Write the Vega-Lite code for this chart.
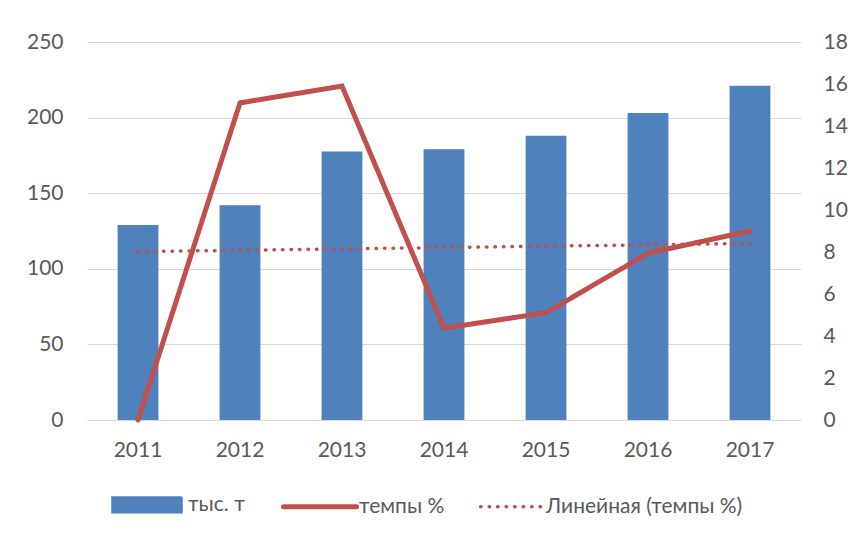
{
  "$schema": "https://vega.github.io/schema/vega-lite/v6.json",
  "width": 714,
  "height": 378,
  "autosize": "none",
  "padding": {"left": 87, "top": 42, "right": 54, "bottom": 116},
  "background": "white",
  "config": {
    "font": "Lato",
    "view": {"stroke": null},
    "axis": {"labelFont": "Lato", "labelFontSize": 21, "labelColor": "#595959", "ticks": false, "domain": false, "grid": false, "title": null}
  },
  "datasets": {
    "bars": [
      {"year": "2011", "value": 129},
      {"year": "2012", "value": 142},
      {"year": "2013", "value": 177.5},
      {"year": "2014", "value": 179},
      {"year": "2015", "value": 188},
      {"year": "2016", "value": 203},
      {"year": "2017", "value": 221}
    ],
    "lines": [
      {"year": "2011", "series": "темпы %", "value": 0},
      {"year": "2012", "series": "темпы %", "value": 15.1},
      {"year": "2013", "series": "темпы %", "value": 15.9},
      {"year": "2014", "series": "темпы %", "value": 4.37},
      {"year": "2015", "series": "темпы %", "value": 5.11},
      {"year": "2016", "series": "темпы %", "value": 7.94},
      {"year": "2017", "series": "темпы %", "value": 9.0},
      {"year": "2011", "series": "Линейная (темпы %)", "value": 8.02},
      {"year": "2012", "series": "Линейная (темпы %)", "value": 8.08},
      {"year": "2013", "series": "Линейная (темпы %)", "value": 8.15},
      {"year": "2014", "series": "Линейная (темпы %)", "value": 8.21},
      {"year": "2015", "series": "Линейная (темпы %)", "value": 8.28},
      {"year": "2016", "series": "Линейная (темпы %)", "value": 8.34},
      {"year": "2017", "series": "Линейная (темпы %)", "value": 8.41}
    ]
  },
  "layer": [
    {
      "data": {"name": "bars"},
      "mark": {"type": "bar"},
      "encoding": {
        "x": {"field": "year", "type": "ordinal", "scale": {"paddingInner": 0.6, "paddingOuter": 0.3},
              "axis": {"labelAngle": 0, "labelPadding": 19, "domain": true, "domainColor": "#D9D9D9", "domainWidth": 1}},
        "y": {"field": "value", "type": "quantitative", "scale": {"domain": [0, 250]},
              "axis": {"values": [0, 50, 100, 150, 200, 250], "grid": true, "gridColor": "#D9D9D9", "gridWidth": 1, "labelPadding": 24}},
        "color": {
          "datum": "тыс. т",
          "type": "nominal",
          "title": null,
          "scale": {"domain": ["тыс. т", "темпы %", "Линейная (темпы %)"], "range": ["#4F81BD", "#C0504D", "#C0504D"]},
          "legend": {
            "title": null,
            "orient": "none",
            "direction": "horizontal",
            "legendX": 26,
            "legendY": 452,
            "labelFont": "Lato",
            "labelFontSize": 21,
            "labelColor": "#595959",
            "labelLimit": 400,
            "columnPadding": 28,
            "encode": {
              "symbols": {
                "update": {
                  "x": {"signal": "datum.value === 'тыс. т' ? 34 : (datum.value === 'темпы %' ? 36 : 31)"},
                  "shape": {"signal": "datum.value === 'тыс. т' ? 'M-1,-0.2H1V0.2H-1Z' : 'stroke'"},
                  "size": {"signal": "datum.value === 'тыс. т' ? 4624 : (datum.value === 'темпы %' ? 5329 : 3700)"},
                  "fill": {"signal": "datum.value === 'тыс. т' ? '#4F81BD' : 'transparent'"},
                  "stroke": {"signal": "datum.value === 'тыс. т' ? 'transparent' : '#C0504D'"},
                  "strokeWidth": {"signal": "datum.value === 'темпы %' ? 5 : 3.5"},
                  "strokeDash": {"signal": "datum.value === 'Линейная (темпы %)' ? [0.5, 8] : [1, 0]"},
                  "strokeCap": {"value": "round"},
                  "opacity": {"value": 1}
                }
              },
              "labels": {
                "update": {
                  "x": {"signal": "datum.value === 'Линейная (темпы %)' ? 66 : 75"}
                }
              }
            }
          }
        }
      }
    },
    {
      "data": {"name": "lines"},
      "mark": {"type": "line", "strokeCap": "round"},
      "encoding": {
        "x": {"field": "year", "type": "ordinal"},
        "y": {"field": "value", "type": "quantitative", "scale": {"domain": [0, 18]},
              "axis": {"orient": "right", "values": [0, 2, 4, 6, 8, 10, 12, 14, 16, 18], "labelPadding": 22}},
        "color": {"field": "series", "type": "nominal", "title": null},
        "strokeWidth": {"field": "series", "type": "nominal", "scale": {"domain": ["темпы %", "Линейная (темпы %)"], "range": [5, 3.5]}, "legend": null},
        "strokeDash": {"field": "series", "type": "nominal", "scale": {"domain": ["темпы %", "Линейная (темпы %)"], "range": [[1, 0], [0.5, 8]]}, "legend": null}
      }
    }
  ],
  "resolve": {"scale": {"y": "independent"}}
}
